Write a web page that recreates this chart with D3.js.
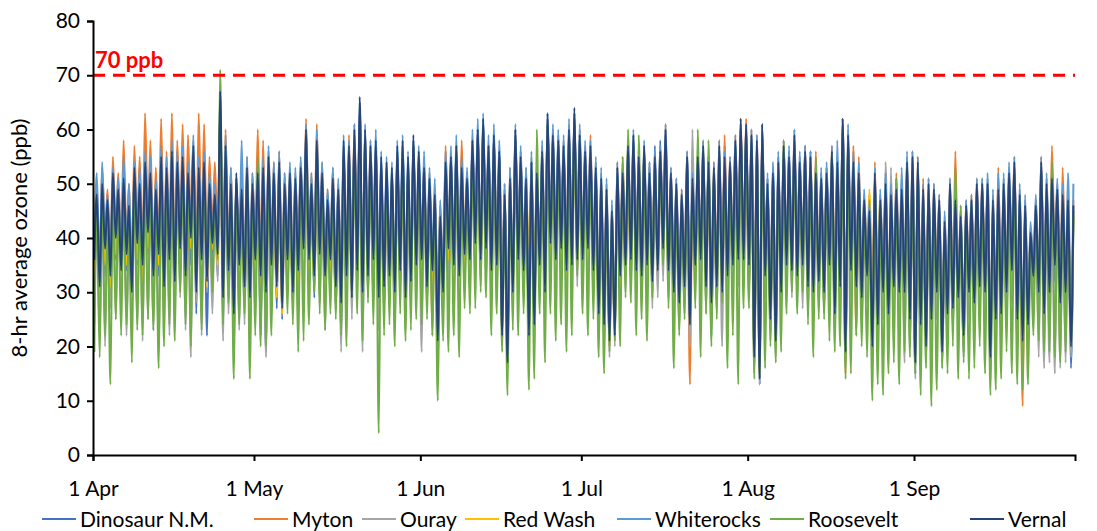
<!DOCTYPE html>
<html><head><meta charset="utf-8">
<script src="https://cdn.jsdelivr.net/npm/d3@7"></script>
<style>body{margin:0;background:#fff;} svg{display:block;font-family:Lato, "Open Sans", sans-serif;}</style>
</head><body><svg id="chart" width="1097" height="531"></svg>
<script>
const seriesNames = ["Dinosaur N.M.","Myton","Ouray","Red Wash","Whiterocks","Roosevelt","Vernal"];
const seriesColors = ["#4472C4","#ED7D31","#A5A5A5","#FFC000","#5B9BD5","#70AD47","#264478"];
const xTickDays = [0,30,61,91,122,153];
const xTickLabels = ["1 Apr","1 May","1 Jun","1 Jul","1 Aug","1 Sep"];
const yTicks = [0,10,20,30,40,50,60,70,80];
const thresholdValue = 70;
const thresholdLabel = "70 ppb";
const yTitle = "8-hr average ozone (ppb)";

// Daily afternoon high / early-morning low of the 8-hr average, 1 Apr – 30 Sep (183 days)
const dinoHigh = [
47,49,46,51,48,50,45,52,49,53,51,48,54,52,55,53,
54,51,56,52,53,49,47,65,56,49,51,48,52,49,51,
52,54,51,53,49,51,50,52,59,49,57,51,46,50,48,
57,56,59,65,59,56,57,54,53,52,56,57,54,58,55,
54,51,48,45,54,55,57,53,51,58,60,62,57,59,56,
49,52,59,55,51,54,52,56,62,59,58,57,60,63,59,
55,56,52,50,48,46,52,51,56,58,55,56,54,57,58,
59,51,49,47,54,50,54,56,55,52,56,57,53,57,60,
60,58,57,60,51,53,55,56,56,58,55,57,56,53,52,
53,55,53,61,58,53,51,46,48,51,46,49,47,48,48,
53,54,53,48,49,48,46,42,49,46,43,45,46,49,49,
49,46,48,49,51,53,47,45,40,45,53,49,50,48,47,46,45];
const dinoLow = [
30,27,33,29,36,31,34,28,35,30,37,28,33,27,32,29,
33,28,35,26,31,22,34,33,26,29,23,31,27,24,30,
22,19,30,27,25,32,27,30,34,33,29,33,28,32,27,
22,27,30,31,27,30,33,26,28,30,27,31,26,29,32,
33,28,31,20,27,35,32,30,34,33,36,33,35,31,32,
24,19,30,34,32,23,25,33,29,37,34,36,32,33,34,
34,36,32,24,22,20,21,31,33,34,32,31,33,30,32,
36,32,28,26,29,22,33,34,29,22,29,28,31,33,34,
34,33,17,13,31,23,20,28,33,32,31,33,29,28,30,
27,32,24,28,17,31,28,26,30,18,21,27,23,28,27,
27,22,15,21,18,22,27,17,23,24,26,19,27,25,28,
27,16,22,23,27,31,22,19,21,30,27,23,27,32,25,27,16];
const mytonHigh = [
50,53,49,55,52,58,50,57,55,63,58,53,62,56,63,58,
61,59,58,63,61,55,54,64,60,53,50,52,55,52,60,
58,56,54,56,52,53,52,54,62,52,61,54,49,53,50,
56,59,61,61,60,58,56,52,50,52,55,54,52,56,54,
54,52,49,46,57,55,57,58,52,58,60,61,57,59,55,
50,53,60,56,52,55,53,57,62,60,59,58,61,63,60,
57,59,54,52,50,46,54,55,57,59,56,57,53,55,57,
61,53,51,49,56,52,56,58,55,54,58,59,55,59,62,
62,60,59,61,51,53,55,58,56,60,55,57,56,56,52,
53,57,55,62,60,57,55,48,46,54,48,51,50,52,50,
55,56,55,51,51,50,48,44,51,56,45,47,48,51,51,
51,48,53,51,53,55,49,47,42,47,55,51,57,50,53,49,47];
const mytonLow = [
38,34,40,36,41,37,39,34,41,37,42,36,39,34,38,35,
40,36,42,35,39,36,41,39,33,37,31,38,34,32,38,
35,32,37,33,29,38,32,36,40,37,35,38,26,37,33,
31,34,32,36,33,35,37,29,27,32,31,35,30,33,36,
37,32,22,30,31,39,36,34,38,37,40,37,39,30,36,
26,20,32,37,35,25,26,36,32,40,37,39,35,36,37,
37,39,35,27,25,23,24,34,36,37,35,34,36,33,35,
39,35,31,29,32,13,36,37,32,29,32,31,34,36,37,
37,29,20,16,34,27,23,31,36,35,34,36,32,31,33,
31,36,27,32,15,35,22,30,34,21,25,31,27,32,31,
31,26,18,25,21,26,31,20,27,28,30,23,31,29,32,
31,19,26,27,31,35,26,9,25,34,31,27,31,36,29,31,22];
const ourayHigh = [
44,47,43,49,46,48,42,50,47,51,49,46,52,50,53,51,
52,49,54,50,51,47,46,62,54,47,49,46,51,50,50,
50,52,49,51,47,49,48,50,56,47,55,49,44,48,46,
54,53,56,60,56,53,54,51,50,49,53,54,51,55,52,
52,49,47,43,52,53,56,52,50,57,59,60,56,58,55,
48,51,58,56,53,52,51,55,61,58,57,56,59,61,58,
54,55,51,49,47,43,51,50,55,57,53,55,50,53,54,
57,50,48,46,53,60,54,55,52,51,55,54,52,56,59,
58,56,55,58,48,50,52,55,53,56,52,54,53,50,49,
51,55,53,60,58,53,51,46,44,51,46,54,53,50,48,
51,52,51,46,47,46,44,40,47,44,41,43,44,47,47,
47,44,46,47,49,51,45,43,38,43,51,47,48,46,45,44,43];
const ourayLow = [
24,22,20,27,25,28,22,26,24,21,25,23,19,24,22,26,
29,23,18,28,22,30,26,32,21,26,19,23,24,20,25,
24,18,26,29,26,30,27,25,28,30,31,28,23,29,27,
19,28,25,30,19,29,28,23,26,28,24,30,23,27,29,
19,28,27,16,25,30,28,26,31,30,33,31,32,27,29,
22,16,27,31,30,20,22,30,26,34,31,33,29,30,31,
30,32,29,22,20,18,20,28,30,31,29,28,30,27,29,
32,29,25,23,26,20,30,31,26,23,26,20,28,30,31,
31,30,15,13,29,21,18,26,30,29,28,27,26,25,27,
26,30,22,27,16,29,26,24,28,17,20,25,22,26,25,
17,20,14,19,17,21,25,16,21,23,24,18,25,23,26,
23,14,20,21,24,28,20,17,19,27,18,16,17,15,16,17,18];
const redWashHigh = [
46,48,45,50,47,49,44,51,48,52,50,47,53,51,54,52,
53,50,55,51,52,48,47,63,55,48,50,47,52,49,51,
51,53,50,52,48,50,49,51,57,48,56,50,45,49,47,
55,54,57,61,57,54,55,52,51,50,54,55,52,56,53,
52,50,47,43,53,54,56,52,50,57,59,60,56,58,55,
47,50,57,52,49,48,45,54,60,56,55,54,57,60,56,
53,54,50,48,46,43,50,49,52,55,52,54,49,52,53,
55,49,47,45,52,48,52,54,51,50,54,53,51,55,58,
57,55,54,57,49,51,53,54,53,56,52,54,53,50,49,
51,55,53,60,57,52,50,47,49,49,48,49,47,48,48,
51,52,51,47,48,47,46,42,48,45,43,45,46,48,48,
48,45,47,48,50,52,46,44,40,45,52,48,49,47,46,45,44];
const redWashLow = [
33,30,35,31,37,33,35,29,36,32,38,31,35,30,34,31,
36,31,38,30,35,31,38,35,28,33,27,34,30,28,34,
31,28,33,29,26,34,28,32,36,34,31,35,31,34,29,
29,33,30,34,31,33,35,29,30,32,30,33,29,32,34,
34,30,32,20,29,36,33,31,35,34,37,34,36,32,33,
26,21,30,36,40,38,37,35,31,38,35,37,33,34,35,
34,36,32,25,23,20,22,31,33,34,36,37,35,38,40,
38,34,30,28,31,25,35,36,31,28,31,30,33,35,36,
36,35,19,15,33,25,22,30,35,34,33,35,31,30,32,
31,36,28,33,21,35,32,35,37,32,35,31,28,32,31,
31,27,20,26,22,27,32,22,28,29,31,24,32,30,33,
31,20,27,28,32,36,27,23,26,35,32,28,32,37,30,32,24];
const whiterocksHigh = [
52,54,48,53,51,55,50,54,53,56,55,51,57,55,58,56,
57,54,59,55,56,52,50,63,59,53,51,58,55,52,54,
55,57,54,56,52,54,53,55,61,52,60,54,49,53,51,
59,58,61,64,61,58,60,56,55,54,58,59,56,58,57,
56,53,51,47,56,57,59,55,53,60,62,63,59,61,58,
50,53,61,57,53,56,54,58,63,61,60,59,62,63,61,
58,58,55,53,51,47,54,53,58,60,56,58,54,56,57,
61,53,51,49,56,52,56,58,55,54,58,56,55,59,61,
61,60,59,61,52,54,56,58,57,60,56,57,56,54,53,
54,57,58,62,61,56,54,49,47,53,49,52,50,51,53,
56,56,55,50,51,50,48,45,51,48,46,47,48,51,51,
52,49,52,52,54,55,50,48,43,48,55,52,53,51,50,52,50];
const whiterocksLow = [
37,33,39,35,41,36,38,32,40,36,42,35,38,33,37,34,
39,34,41,32,37,33,40,38,31,35,28,36,32,30,37,
34,31,36,32,28,37,31,35,39,37,34,38,34,37,32,
30,34,31,35,32,34,37,30,32,34,31,35,30,33,36,
37,32,35,23,31,39,36,34,38,37,40,37,39,35,36,
25,20,32,37,35,25,27,36,32,40,37,39,35,36,37,
37,39,35,28,25,22,24,34,36,37,35,34,36,33,35,
39,35,31,29,32,25,36,37,32,29,32,31,34,36,37,
37,36,20,16,34,26,23,31,36,35,34,36,32,31,33,
31,36,27,32,20,35,32,30,34,21,25,31,27,32,31,
31,26,18,25,21,26,31,20,27,28,30,23,31,29,32,
31,19,26,27,31,35,26,22,25,34,31,27,31,36,29,31,22];
const rooseveltHigh = [
45,48,44,50,47,49,43,51,48,52,50,47,53,51,54,52,
52,50,55,51,52,48,46,71,55,48,51,47,52,48,55,
50,53,49,51,47,50,48,51,57,48,56,50,45,49,47,
55,54,57,60,57,54,55,52,52,51,55,56,53,57,54,
51,49,46,42,52,53,55,51,49,56,58,60,55,57,54,
46,49,58,53,49,52,60,54,61,57,56,55,58,62,57,
54,55,51,49,47,43,51,55,60,57,59,55,50,53,54,
55,50,48,46,53,49,60,55,58,52,55,53,52,56,60,
59,57,56,59,48,50,52,58,53,57,52,54,53,55,49,
50,54,52,60,57,52,50,45,43,50,45,48,46,51,47,
52,53,52,47,48,47,45,41,48,53,46,44,45,48,48,
48,45,47,48,50,52,46,44,39,44,52,48,54,47,46,45,44];
const rooseveltLow = [
19,18,22,13,25,22,24,17,23,22,25,23,16,20,24,21,
30,24,20,30,23,33,30,36,24,28,14,24,26,14,22,
20,20,22,32,30,26,24,19,21,24,30,26,23,26,25,
22,20,29,26,21,28,24,4,22,24,20,26,21,23,25,
24,25,22,10,21,19,22,18,27,26,27,30,29,22,26,
19,11,23,22,26,12,14,26,17,26,21,24,19,22,33,
26,22,25,18,15,19,21,20,29,28,22,25,21,29,35,
35,27,16,22,25,24,27,18,26,20,25,28,16,22,13,
27,27,14,15,16,20,17,19,26,30,26,30,24,18,25,
25,21,19,20,14,15,22,20,18,10,13,11,15,17,13,
19,18,15,11,16,9,12,16,15,20,14,17,14,16,20,
15,11,12,14,19,15,13,12,13,22,21,19,19,18,17,19,20];
const vernalHigh = [
48,50,47,52,49,51,46,53,50,54,52,49,55,53,56,54,
55,52,57,53,54,50,48,67,57,50,52,49,53,50,52,
53,55,52,54,50,52,51,53,60,50,58,52,47,51,49,
58,57,60,66,60,57,58,55,54,53,57,58,55,59,56,
53,51,48,44,54,55,57,53,51,58,60,62,57,59,56,
48,51,60,55,51,54,52,56,63,59,58,57,60,64,59,
56,57,53,51,49,45,53,52,57,59,55,57,52,55,56,
60,52,50,48,55,51,55,57,54,53,57,55,54,58,62,
61,59,58,61,50,52,54,57,55,59,54,56,55,52,51,
52,56,54,62,59,54,52,47,45,52,47,50,48,49,49,
54,55,54,49,50,49,47,43,50,47,44,46,47,50,50,
50,47,49,50,52,54,48,46,41,46,54,50,51,49,48,47,46];
const vernalLow = [
36,31,38,33,40,34,37,30,39,35,41,33,37,31,36,32,
38,33,40,30,36,32,39,37,29,34,26,35,31,29,36,
33,30,35,31,27,36,30,34,38,36,33,37,33,36,31,
28,33,29,34,30,33,36,29,31,33,30,34,29,32,35,
36,31,34,21,30,38,35,33,37,36,39,36,38,34,35,
22,17,30,36,34,22,24,35,30,39,36,38,34,35,36,
36,38,34,26,24,21,22,33,35,36,34,33,35,32,34,
38,34,30,28,31,24,35,36,31,28,31,30,33,35,36,
36,35,18,14,33,25,21,30,35,34,33,35,31,30,32,
30,35,26,31,19,34,31,29,33,20,24,30,26,31,30,
30,25,17,24,20,25,30,19,26,27,29,22,30,28,31,
30,18,25,26,30,34,25,21,24,33,30,26,30,35,28,30,20];

const seriesHigh = [dinoHigh, mytonHigh, ourayHigh, redWashHigh, whiterocksHigh, rooseveltHigh, vernalHigh];
const seriesLow  = [dinoLow, mytonLow, ourayLow, redWashLow, whiterocksLow, rooseveltLow, vernalLow];

const svg = d3.select("#chart");
const plot = {left: 93, right: 1075, top: 21, bottom: 455};
const x = d3.scaleLinear().domain([0, 183]).range([plot.left, plot.right]);
const y = d3.scaleLinear().domain([0, 80]).range([plot.bottom, plot.top]);

svg.append("defs").append("clipPath").attr("id","clip")
  .append("rect").attr("x", plot.left).attr("y", 0).attr("width", plot.right - plot.left).attr("height", plot.bottom);

function points(hi, lo) {
  const p = [];
  const n = Math.min(hi.length, lo.length);
  for (let d = 0; d < n; d++) { p.push([d + 0.25, lo[d]]); p.push([d + 0.7, hi[d]]); }
  return p;
}
const line = d3.line().x(d => x(d[0])).y(d => y(d[1])).curve(d3.curveMonotoneX);

const g = svg.append("g").attr("clip-path", "url(#clip)");
seriesNames.forEach((name, i) => {
  g.append("path").datum(points(seriesHigh[i], seriesLow[i]))
    .attr("fill", "none").attr("stroke", seriesColors[i]).attr("stroke-width", 2)
    .attr("stroke-linejoin", "round").attr("d", line);
});

// threshold
svg.append("line").attr("x1", plot.left).attr("x2", plot.right)
  .attr("y1", y(thresholdValue)).attr("y2", y(thresholdValue))
  .attr("stroke", "#FF0000").attr("stroke-width", 3).attr("stroke-dasharray", "12,8");
svg.append("text").attr("x", plot.left + 2).attr("y", y(thresholdValue) - 7)
  .attr("fill", "#FF0000").attr("font-weight", "bold").attr("font-size", 22).text(thresholdLabel);

// axes
const yAxis = svg.append("g").attr("transform", `translate(${plot.left},0)`)
  .call(d3.axisLeft(y).tickValues(yTicks).tickSize(6).tickPadding(7));
const xAxis = svg.append("g").attr("transform", `translate(0,${plot.bottom})`)
  .call(d3.axisBottom(x).tickValues(xTickDays).tickFormat((d, i) => xTickLabels[i]).tickSize(6).tickPadding(20));
[yAxis, xAxis].forEach(a => {
  a.select(".domain").attr("stroke", "#000").attr("stroke-width", 2);
  a.selectAll(".tick line").attr("stroke", "#000").attr("stroke-width", 2);
  a.selectAll(".tick text").attr("fill", "#000").attr("font-size", 21).attr("font-family", "Lato, sans-serif");
});

svg.append("text").attr("transform", `translate(27,${(plot.top + plot.bottom) / 2}) rotate(-90)`)
  .attr("text-anchor", "middle").attr("font-size", 22).attr("fill", "#000").text(yTitle);

// legend
const legendX = [42, 254, 362, 465, 617, 770, 970];
const lg = svg.append("g");
seriesNames.forEach((name, i) => {
  lg.append("line").attr("x1", legendX[i]).attr("x2", legendX[i] + 34)
    .attr("y1", 519).attr("y2", 519).attr("stroke", seriesColors[i]).attr("stroke-width", 2);
  lg.append("text").attr("x", legendX[i] + 38).attr("y", 527).attr("font-size", 21)
    .attr("fill", "#000").text(name);
});
</script></body></html>
